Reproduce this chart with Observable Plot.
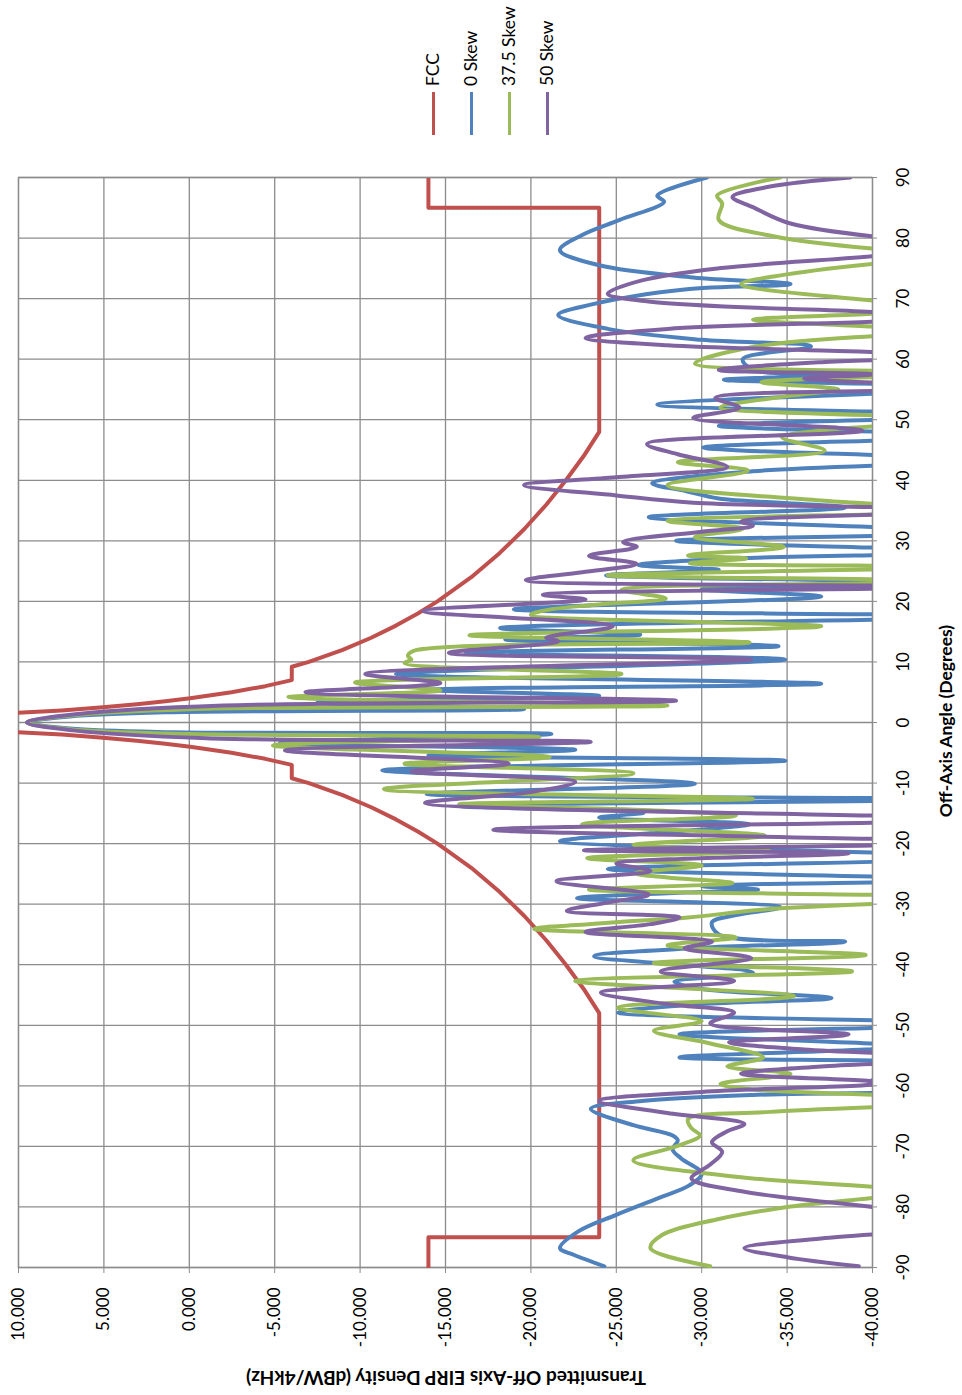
<!DOCTYPE html>
<html>
<head>
<meta charset="utf-8">
<script src="https://cdn.jsdelivr.net/npm/d3@7"></script>
<script src="https://cdn.jsdelivr.net/npm/@observablehq/plot@0.6"></script>
<style>
  html, body { margin: 0; padding: 0; background: #fff; width: 962px; height: 1395px; overflow: hidden; }
  #rot {
    position: absolute; left: 0; top: 0; width: 1395px; height: 962px;
    transform-origin: 0 0; transform: translate(0px, 1395px) rotate(-90deg);
    font-family: Lato, "Open Sans", sans-serif; color: #000; background: #fff;
  }
  .title { position: absolute; font-weight: bold; font-size: 17.5px; white-space: nowrap; transform: translate(-50%, -50%); }
  .ytitle { font-size: 19px; transform: translate(-50%, -50%) rotate(-90deg); }
  .leg { position: absolute; height: 0; }
  .leg .sw { position: absolute; left: 0; top: -1.5px; width: 43px; height: 3px; }
  .leg .lb { position: absolute; left: 49px; top: -11px; font-size: 17.5px; line-height: 22px; white-space: nowrap; }
</style>
</head>
<body>
<div id="rot"></div>
<script>
// ---- data ----
const seriesNames = ["FCC", "0 Skew", "37.5 Skew", "50 Skew"];
const seriesColors = ["#C0504D", "#4F81BD", "#9BBB59", "#8064A2"];
const angleTicks = [-90, -80, -70, -60, -50, -40, -30, -20, -10, 0, 10, 20, 30, 40, 50, 60, 70, 80, 90];
const eirpTicks = [-40, -35, -30, -25, -20, -15, -10, -5, 0, 5, 10];

// FCC mask [angle, dBW/4kHz]
const fcc = [[-90,-14],[-85,-14],[-85,-24],[-48,-24],[-44,-23.09],[-40,-22.05],[-36,-20.91],[-32,-19.63],[-28,-18.18],[-24,-16.51],[-20,-14.53],[-18,-13.38],[-16,-12.1],[-14,-10.65],[-12,-8.98],[-10,-7.0],[-9.2,-6.0],[-7,-6.0],[-6,-4.45],[-5,-2.47],[-4,-0.05],[-3.5,1.4],[-3,3.07],[-2.5,5.05],[-2,7.47],[-1.5,10.6],[1.5,10.6],[2,7.47],[2.5,5.05],[3,3.07],[3.5,1.4],[4,-0.05],[5,-2.47],[6,-4.45],[7,-6.0],[9.2,-6.0],[10,-7.0],[12,-8.98],[14,-10.65],[16,-12.1],[18,-13.38],[20,-14.53],[24,-16.51],[28,-18.18],[32,-19.63],[36,-20.91],[40,-22.05],[44,-23.09],[48,-24],[85,-24],[85,-14],[90,-14]];

// 0 Skew
const skew0 = [[-89.8,-24.3],[-87.9,-22.5],[-86.8,-21.7],[-84.0,-22.8],[-81.3,-25.0],[-78.5,-27.5],[-76.4,-29.3],[-74.5,-30.0],[-72.0,-28.8],[-70.5,-28.3],[-69.0,-28.6],[-68.2,-28.3],[-66.5,-26.0],[-63.8,-23.5],[-62.5,-26.5],[-61.5,-33],[-60.8,-46],[-60.0,-42],[-59.3,-39.8],[-58.0,-42],[-56.4,-46],[-55.3,-28.7],[-53.5,-42],[-51.5,-28.7],[-49.8,-46],[-47.9,-25.1],[-46.5,-30],[-45.5,-37.6],[-44.0,-30],[-42.8,-28.4],[-41.3,-33],[-38.6,-23.7],[-37.2,-30],[-36.2,-38.4],[-35.0,-31],[-33.0,-30.6],[-31.8,-32],[-30.5,-34.6],[-29.0,-22.7],[-28.2,-28],[-27.6,-33.3],[-27.0,-30],[-26.0,-46],[-24.2,-24.5],[-22.3,-46],[-19.6,-21.7],[-18.3,-27],[-16.8,-32.8],[-15.7,-24],[-14.9,-26.6],[-13.8,-15.8],[-12.7,-46],[-11.8,-13.9],[-10.1,-29.6],[-7.9,-11.3],[-6.3,-34.9],[-5.4,-14],[-4.5,-22.6],[-3.4,-5.3],[-1.9,-21.2],[-1.6,1],[-1.0,7],[0,9.5],[1.0,7],[1.7,1],[2.2,-19.6],[3.3,-7.5],[4.4,-24],[5.4,-14],[6.4,-37],[8.0,-12.1],[10.4,-34.9],[11.5,-16.2],[12.6,-34.5],[13.7,-18.5],[14.5,-26.4],[15.6,-18.2],[17.5,-46],[18.7,-19.0],[20.8,-37],[22.0,-30],[23.0,-46],[24.3,-24.4],[25.2,-31],[26.0,-26.3],[27.0,-31],[28.2,-46],[30.0,-28.5],[31.4,-46],[33.9,-26.9],[35.5,-38.4],[37.0,-31],[38.2,-29.1],[39.5,-27.1],[41.5,-33],[43.3,-46],[45.4,-30.1],[47.3,-46],[49.0,-31.0],[50.7,-46],[52.5,-27.4],[55.3,-46],[56.6,-31.3],[57.8,-46],[58.3,-33.0],[60.0,-32.4],[62.1,-36.4],[63.2,-30],[65.0,-24.5],[67.3,-21.6],[69.0,-23.5],[71.5,-29],[72.4,-35.2],[73.5,-29.5],[75.5,-24.0],[78.0,-21.7],[80.5,-23.0],[83.0,-25.2],[86.0,-27.8],[87.0,-27.4],[90.0,-30.3]];

// 37.5 Skew
const skew375 = [[-89.8,-30.5],[-86.8,-27.0],[-84.6,-27.7],[-82.0,-31],[-80.0,-35],[-77.5,-42],[-75.0,-32],[-72.3,-26.0],[-70.0,-28.5],[-68.2,-29.9],[-67.0,-29.4],[-65.5,-29.2],[-64.3,-34],[-62.4,-47],[-60.6,-33],[-59.7,-31.1],[-58.0,-35.2],[-56.8,-31.5],[-55.3,-33.6],[-53.0,-30.5],[-50.9,-27.2],[-49.3,-30.0],[-47.1,-25.1],[-45.2,-35.4],[-42.7,-22.6],[-41.1,-38.8],[-39.7,-27.2],[-38.4,-39.6],[-36.8,-28.0],[-35.5,-32],[-34.1,-20.2],[-33.0,-25],[-32.2,-29.2],[-30.8,-34],[-29.0,-46],[-27.6,-23.4],[-26.5,-31.8],[-25.6,-28],[-24.9,-26.1],[-23.6,-30],[-22.4,-23.3],[-21.2,-34],[-20.2,-26],[-18.7,-33.7],[-16.8,-23],[-15.4,-32],[-14.5,-27],[-13.5,-15.8],[-12.6,-33],[-11.0,-11.4],[-8.4,-26],[-6.8,-12.6],[-5.7,-21.1],[-3.8,-4.9],[-2.4,-20.5],[-1.9,0],[-1.1,7],[0,9.5],[1.2,6.8],[2.2,0],[2.8,-28],[4.2,-5.8],[5.3,-14.7],[6.6,-9.7],[8.0,-25.3],[9.8,-12.6],[10.4,-13.0],[11.0,-12.8],[11.8,-13.1],[13.2,-32.8],[14.4,-16.4],[15.9,-37],[17.8,-20],[18.6,-21],[19.5,-24],[20.5,-27.9],[21.9,-25.3],[23.3,-46],[24.3,-24.5],[25.7,-46],[26.3,-29.3],[27.1,-32.6],[27.6,-29.2],[29.0,-34.8],[30.6,-29.6],[32.0,-32.4],[33.3,-28.0],[35.0,-46],[36.6,-37.2],[39.2,-28.0],[41.6,-32.7],[43.0,-28.6],[44.9,-37.2],[47.1,-34.7],[48.5,-38],[50.0,-46],[52.0,-31.1],[53.9,-35],[55.0,-38],[56.2,-33.5],[57.7,-46],[59.3,-29.6],[62.0,-33],[63.8,-40],[64.5,-46],[65.4,-40],[66.5,-33.0],[67.5,-40],[68.5,-46],[69.7,-40],[72.4,-32.3],[74.0,-35],[76.0,-41],[77.0,-47],[78.0,-41],[80.3,-34.2],[83.0,-31.0],[85.7,-31.2],[87.0,-30.9],[90.0,-34.6]];

// 50 Skew
const skew50 = [[-89.8,-39.2],[-88.3,-35],[-86.8,-32.5],[-85.2,-37],[-82.5,-48],[-80.0,-40],[-77.5,-32.5],[-75.3,-29.4],[-73.0,-30.5],[-70.9,-31.2],[-69.3,-30.6],[-67.5,-31.5],[-66.3,-32.5],[-64.5,-28],[-62.5,-24.0],[-61.0,-30],[-59.5,-41],[-58.0,-32.3],[-56.8,-37],[-55.5,-46],[-54.0,-36],[-52.8,-31.6],[-51.5,-38.6],[-49.7,-30.5],[-47.9,-31.9],[-46.5,-28],[-44.6,-24.1],[-42.7,-31.9],[-41.1,-27.6],[-38.9,-32.9],[-37.3,-29],[-36.2,-30.6],[-34.6,-23.2],[-33.3,-27],[-32.2,-28.7],[-31.1,-22.1],[-29.5,-25],[-28.4,-26.9],[-26.2,-21.5],[-24.5,-27],[-23.3,-25],[-21.6,-38.6],[-21.1,-23.1],[-19.8,-46],[-17.7,-17.8],[-16.0,-46],[-13.3,-13.8],[-11.5,-20],[-9.8,-22.6],[-8.1,-13.0],[-6.8,-18.7],[-4.6,-5.6],[-3.2,-23.5],[-2.6,-1],[-1.3,6.8],[0,9.5],[1.4,6.5],[2.8,-2],[3.6,-28.5],[5.0,-6.8],[6.5,-14.7],[8.0,-10.3],[10.4,-32.9],[11.5,-15.2],[13.4,-21.6],[14.0,-20.9],[15.9,-24.8],[18.4,-13.7],[20.3,-23.2],[21.1,-20.7],[22.4,-46],[23.5,-19.7],[24.8,-23],[26.2,-26.2],[27.5,-23.4],[29.0,-26.2],[29.8,-25.4],[31.5,-30],[32.5,-33],[33.2,-32.3],[35.0,-46],[36.3,-29.5],[37.5,-25],[39.2,-19.6],[40.5,-25],[42.2,-31.5],[44.3,-28.6],[46.0,-26.8],[48.2,-39.4],[50.3,-29.5],[52.0,-32.2],[53.6,-30.8],[55.2,-46],[56.8,-36],[57.5,-40],[58.2,-31.0],[59.5,-37],[60.5,-46],[61.5,-36],[62.3,-28],[63.5,-23.2],[65.0,-28],[66.2,-40],[67.0,-47],[67.8,-40],[69.5,-27],[70.8,-24.5],[73.0,-26.5],[75.0,-31],[77.0,-40],[79.0,-47],[80.0,-41],[82.4,-35.2],[85.1,-33.0],[86.8,-31.8],[88.5,-34],[90.0,-38.7]];

// ---- chart (drawn unrotated, then the whole figure is turned 90° counter-clockwise) ----
const gridColor = "#8c8c8c";
const W = 1395, H = 962;
const lineOpts = (color) => ({x: d => d[0], y: d => d[1], stroke: color, strokeWidth: 4, clip: true});

const chart = Plot.plot({
  width: W, height: H,
  marginLeft: 127, marginRight: 178, marginTop: 18, marginBottom: 90,
  style: {fontFamily: "Lato, 'Open Sans', sans-serif", fontSize: "17px", color: "#000", background: "#fff"},
  x: {domain: [-90, 90], label: null},
  y: {domain: [-40, 10], label: null},
  marks: [
    Plot.gridX(angleTicks, {stroke: gridColor, strokeOpacity: 1, strokeWidth: 1.3}),
    Plot.gridY(eirpTicks, {stroke: gridColor, strokeOpacity: 1, strokeWidth: 1.3}),
    Plot.frame({stroke: gridColor, strokeWidth: 1.3}),
    Plot.axisX({ticks: angleTicks, tickFormat: d => String(d), tickSize: 5, tickPadding: 19, stroke: gridColor, fill: "#000", label: null, fontSize: 17}),
    Plot.axisY({ticks: eirpTicks, tickFormat: d => d.toFixed(3), tickSize: 5, tickPadding: 15, stroke: gridColor, fill: "#000", label: null, fontSize: 17}),
    Plot.line(fcc, {...lineOpts(seriesColors[0]), curve: "linear"}),
    Plot.line(skew0, {...lineOpts(seriesColors[1]), curve: "catmull-rom"}),
    Plot.line(skew375, {...lineOpts(seriesColors[2]), curve: "catmull-rom"}),
    Plot.line(skew50, {...lineOpts(seriesColors[3]), curve: "catmull-rom"})
  ]
});

const rot = document.getElementById("rot");
rot.appendChild(chart);

// axis titles
const xt = document.createElement("div");
xt.className = "title";
xt.textContent = "Off-Axis Angle (Degrees)";
xt.style.left = "674px"; xt.style.top = "945px";
rot.appendChild(xt);

const yt = document.createElement("div");
yt.className = "title ytitle";
yt.textContent = "Transmitted Off-Axis EIRP Density (dBW/4kHz)";
yt.style.left = "17px"; yt.style.top = "446px";
rot.appendChild(yt);

// legend
seriesNames.forEach((name, i) => {
  const item = document.createElement("div");
  item.className = "leg";
  item.style.left = "1260px";
  item.style.top = (433 + 38 * i) + "px";
  const sw = document.createElement("div");
  sw.className = "sw";
  sw.style.background = seriesColors[i];
  const lb = document.createElement("div");
  lb.className = "lb";
  lb.textContent = name;
  item.appendChild(sw);
  item.appendChild(lb);
  rot.appendChild(item);
});
</script>
</body>
</html>
